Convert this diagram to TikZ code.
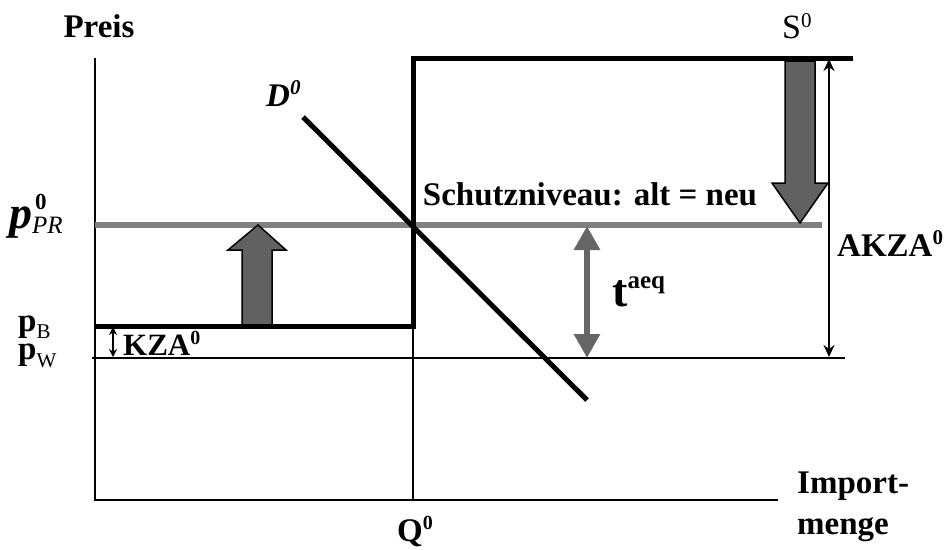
\documentclass[tikz,border=0pt]{standalone}
\usepackage{fontspec}
\setmainfont{Liberation Serif}
\usetikzlibrary{arrows.meta,positioning,calc}
\newcommand{\fs}[1]{\fontsize{#1}{#1}\selectfont}
\tikzset{
	axisline/.style={line width=2pt, black},
	curveline/.style={line width=5pt, black},
	levelline/.style={line width=6pt, draw=black!50},
	blockarr/.style={draw=black, line width=1.5pt, fill=black!62, line join=miter},
	dimarr/.style={{Stealth[length=12pt,width=11pt]}-{Stealth[length=12pt,width=11pt]}, line width=2pt},
	smallarr/.style={{Stealth[length=8pt,width=8pt]}-{Stealth[length=8pt,width=8pt]}, line width=1.8pt},
	taeqarr/.style={{Triangle[length=24pt,width=25pt]}-{Triangle[length=24pt,width=25pt]}, line width=6pt, draw=black!60},
	lbl/.style={font=\fs{33}\bfseries, inner sep=0pt}
}
\begin{document}
\begin{tikzpicture}[x=1pt, y=-1pt]
	\useasboundingbox (0,0) rectangle (947,549);
	% points of the diagram
	\coordinate (org) at (95,500);
	\coordinate (ytop) at (95,58);
	\coordinate (xend) at (778,500);
	\coordinate (qbot) at (413,500);
	\coordinate (kink) at (413,326);
	\coordinate (stop) at (413,58);
	\coordinate (send) at (853,58);
	\coordinate (pbl) at (95,326);
	\coordinate (pwl) at (92,358);
	\coordinate (pwr) at (845,358);
	\coordinate (pprl) at (95,225);
	\coordinate (pprr) at (822,225);
	\coordinate (dtop) at (303,117);
	\coordinate (dbot) at (587,400);
	% axes and levels
	\draw[axisline] (ytop) -- (org) -- (xend);
	\draw[axisline] (pwl) -- (pwr);
	\draw[levelline] (pprl) -- (pprr);
	\draw[axisline] (qbot) -- (kink);
	% arrows for the shift
	\draw[blockarr] (242,326) -- (242,250) -- (228,250) -- (258,225) -- (286,250) -- (272,250) -- (272,326) -- cycle;
	\draw[blockarr] (785,61) -- (785,183) -- (772,183) -- (800,223) -- (828,183) -- (815,183) -- (815,61) -- cycle;
	% supply and demand
	\draw[curveline, line cap=butt] (pbl) -- (kink) -- (stop) -- (send);
	\draw[curveline] (dtop) -- (dbot);
	% distances
	\coordinate (ttop) at (587,226);
	\coordinate (tbot) at (587,358);
	\draw[taeqarr] (ttop) -- (tbot);
	\coordinate (atop) at (829,59);
	\coordinate (abot) at (829,357);
	\draw[dimarr] (atop) -- (abot);
	\coordinate (ktop) at (113,327);
	\coordinate (kbot) at (113,357);
	\draw[smallarr] (ktop) -- (kbot);
	% labels
	\node[lbl] (preis) at (99,26) {Preis};
	\node[lbl, anchor=base west] (ppr) at (9,228) {{\fs{46}\itshape p}\raisebox{-5pt}{\fs{25}\mdseries\itshape PR}\llap{\raisebox{19pt}{\fs{23}0}\hspace{16pt}}};
	\node[lbl, anchor=base west, text depth=0pt] (pb) at (18,331) {p\raisebox{-7pt}{\fs{21}\mdseries B}};
	\node[lbl, anchor=base west] (pw) at (18,359) {p\raisebox{-8pt}{\fs{21}\mdseries W}};
	\node[lbl, anchor=base west] (kza) at (123,355) {\fs{31}KZA\raisebox{11pt}{\fs{20}0}};
	\node[lbl, anchor=base west] (dlab) at (266,106) {\itshape D\raisebox{12pt}{\fs{21}0}};
	\node[lbl, font=\fs{34}, anchor=base west] (slab) at (782,38) {S\raisebox{11pt}{\fs{21}0}};
	\node[lbl, anchor=base] (schutz) at (590,205) {Schutzniveau: alt = neu};
	\node[lbl, anchor=base west] (taeq) at (612,306) {{\fs{46}t}\raisebox{18pt}{\fs{25}aeq}};
	\node[lbl, anchor=base west] (akza) at (837,256) {AKZA\raisebox{12pt}{\fs{21}0}};
	\node[lbl, anchor=base west] (qlab) at (397,541) {Q\raisebox{12pt}{\fs{20}0}};
	\node[lbl, anchor=north west, align=left, font=\fs{33}\bfseries, text depth=0pt] (imp) at (797,472) {Import-\\[8pt]menge};
\end{tikzpicture}
\end{document}
